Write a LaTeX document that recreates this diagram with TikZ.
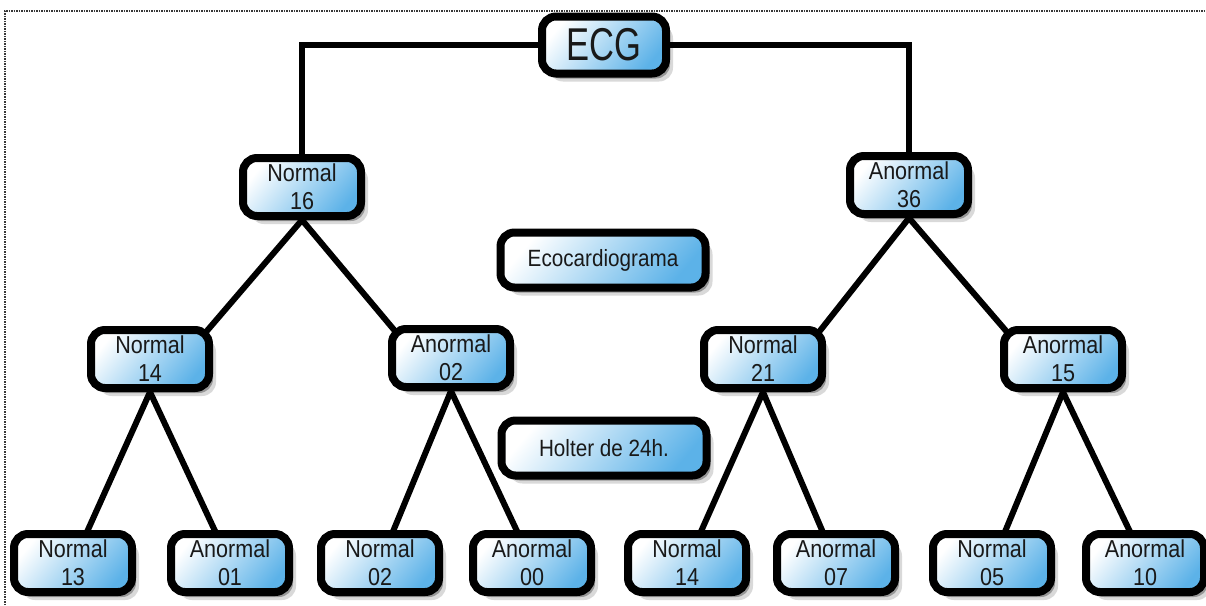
\documentclass[tikz,border=0pt]{standalone}
\usepackage{fontspec}
\setmainfont{Liberation Sans}
\newfontfamily\narrowsans[FakeStretch=0.88]{Liberation Sans}
\newfontfamily\ecgsans[FakeStretch=0.75]{Liberation Sans}
\usetikzlibrary{shadows,backgrounds,calc}
\definecolor{boxblue}{RGB}{92,178,232}
\definecolor{txtgray}{RGB}{25,25,25}
\definecolor{framegray}{RGB}{55,55,55}
\begin{document}
\begin{tikzpicture}[x=1pt,y=-1pt,
  box/.style={draw=black, line width=8pt, rounded corners=14pt,
    top color=white, bottom color=boxblue, shading angle=50,
    drop shadow={shadow xshift=7pt, shadow yshift=-8pt, opacity=0.15, fill=black},
    drop shadow={shadow xshift=4pt, shadow yshift=-5pt, opacity=0.3, fill=black},
    minimum width=118pt, minimum height=58pt, inner sep=0pt, align=center,
    text=txtgray, font=\narrowsans\fontsize{24.5}{28}\selectfont},
  widebox/.style={box, minimum width=205pt, minimum height=55pt, font=\narrowsans\fontsize{23.5}{27}\selectfont},
  link/.style={line width=6pt, draw=black}]
\useasboundingbox (0,0) rectangle (1206,605);
\draw[framegray, line width=2pt, dash pattern=on 1.5pt off 1pt] (5,605) -- (5,11) -- (1206,11);

% nodes
\node[box, minimum width=124pt, minimum height=57pt] (ecg) at (604,45) {\ecgsans\fontsize{46}{50}\selectfont ECG};
\node[box] (n16) at (302,187) {Normal\\16};
\node[box] (a36) at (909,185) {Anormal\\36};
\node[widebox] (eco) at (603,260) {Ecocardiograma};
\node[box] (n14) at (150,359) {Normal\\14};
\node[box] (a02) at (451,358) {Anormal\\02};
\node[box] (n21) at (763,359) {Normal\\21};
\node[box] (a15) at (1063,359) {Anormal\\15};
\node[widebox] (holter) at (604,448) {Holter de 24h.};
\node[box] (n13) at (73,563) {Normal\\13};
\node[box] (a01) at (230,563) {Anormal\\01};
\node[box] (n02) at (380,563) {Normal\\02};
\node[box] (a00) at (532,563) {Anormal\\00};
\node[box] (n14b) at (687,563) {Normal\\14};
\node[box] (a07) at (836,563) {Anormal\\07};
\node[box] (n05) at (992,563) {Normal\\05};
\node[box] (a10) at (1145,563) {Anormal\\10};

% connectors
\begin{scope}[on background layer]
  \draw[link] (ecg.west) -| (n16.north);
  \draw[link] (ecg.east) -| (a36.north);
  \draw[link] (n16.south) -- ($(n14.north east)+(-7,6)$);
  \draw[link] (n16.south) -- ($(a02.north west)+(7,6)$);
  \draw[link] (a36.south) -- ($(n21.north east)+(-7,6)$);
  \draw[link] (a36.south) -- ($(a15.north west)+(7,6)$);
  \draw[link] (n14.south) -- (n13.center);
  \draw[link] (n14.south) -- (a01.center);
  \draw[link] (a02.south) -- (n02.center);
  \draw[link] (a02.south) -- (a00.center);
  \draw[link] (n21.south) -- (n14b.center);
  \draw[link] (n21.south) -- (a07.center);
  \draw[link] (a15.south) -- (n05.center);
  \draw[link] (a15.south) -- (a10.center);
\end{scope}
\end{tikzpicture}
\end{document}
